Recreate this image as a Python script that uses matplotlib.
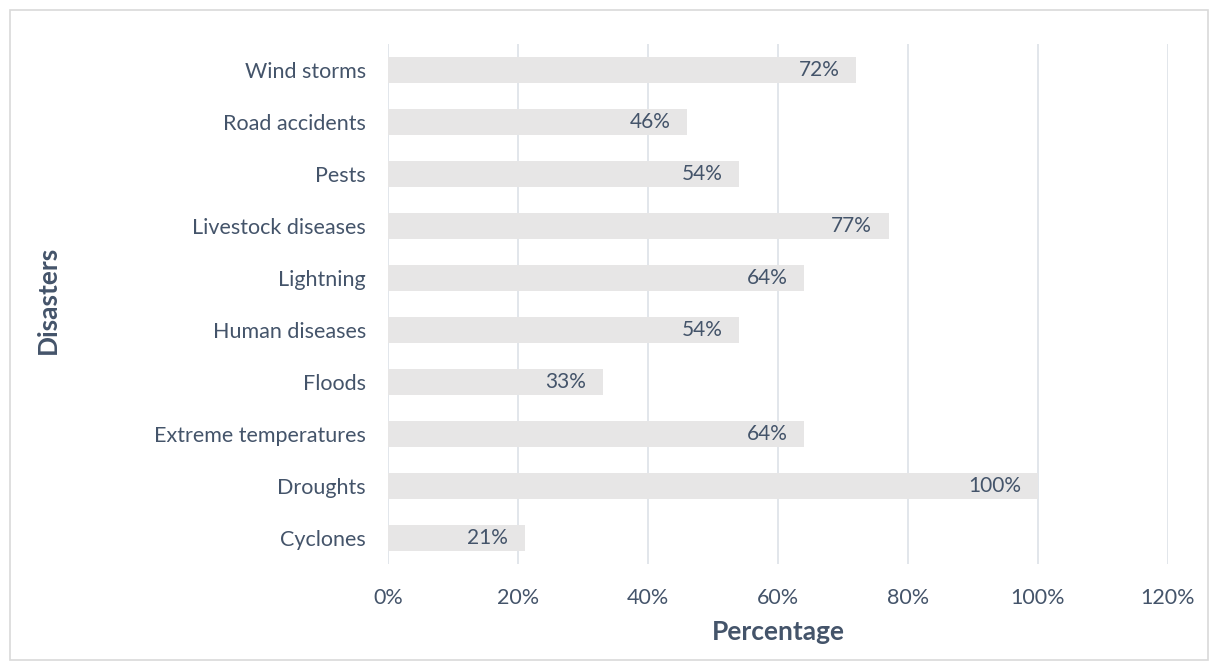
import matplotlib
matplotlib.use("Agg")
import matplotlib.pyplot as plt
from matplotlib.patches import Rectangle
from matplotlib.ticker import FuncFormatter

# Доля хозяйств, затронутых бедствиями
disasters = ["Cyclones", "Droughts", "Extreme temperatures", "Floods", "Human diseases",
             "Lightning", "Livestock diseases", "Pests", "Road accidents", "Wind storms"]
percent = [21, 100, 64, 33, 54, 64, 77, 54, 46, 72]
xticks = [0, 20, 40, 60, 80, 100, 120]

TEXT = "#44546A"
BAR = "#E7E6E6"
GRID = "#DDE1E8"

plt.rcParams["font.family"] = ["Lato", "DejaVu Sans"]

fig = plt.figure(figsize=(12.18, 6.7), dpi=100)
ax = fig.add_axes([388 / 1218, 1 - 564 / 670, 780 / 1218, 520 / 670])

ypos = range(len(disasters))
ax.barh(ypos, percent, height=0.5, color=BAR, zorder=2)
for y, v in zip(ypos, percent):
    ax.annotate(f"{v}%", (v, y), xytext=(-12, 0), textcoords="offset points",
                ha="right", va="center", color=TEXT, fontsize=15, zorder=3)

ax.set_xlim(0, 120)
ax.set_ylim(-0.5, len(disasters) - 0.5)
ax.set_xticks(xticks)
ax.xaxis.set_major_formatter(FuncFormatter(lambda v, _: f"{v:.0f}%"))
ax.set_yticks(list(ypos))
ax.set_yticklabels(disasters)
ax.tick_params(axis="both", length=0, labelsize=15.5, labelcolor=TEXT)
ax.tick_params(axis="x", pad=17)
ax.tick_params(axis="y", pad=16)
ax.grid(axis="x", color=GRID, lw=1.2, zorder=0)
for s in ax.spines.values():
    s.set_visible(False)

ax.set_xlabel("Percentage", fontsize=19, fontweight="bold", color=TEXT)
ax.set_ylabel("Disasters", fontsize=19, fontweight="bold", color=TEXT)
ax.yaxis.set_label_coords(-(388 - 48) / 780, (564 - 300) / 520)
ax.xaxis.set_label_coords(0.5, -(632 - 564) / 520)
ax.xaxis.label.set_va("center")
ax.yaxis.label.set_va("center")

# рамка вокруг всей диаграммы
fig.patches.append(Rectangle((10 / 1218, 10 / 670), 1198 / 1218, 650 / 670,
                             transform=fig.transFigure, fill=False,
                             edgecolor="#D9D9D9", lw=1.2))

fig.savefig("out.png", dpi=100)
